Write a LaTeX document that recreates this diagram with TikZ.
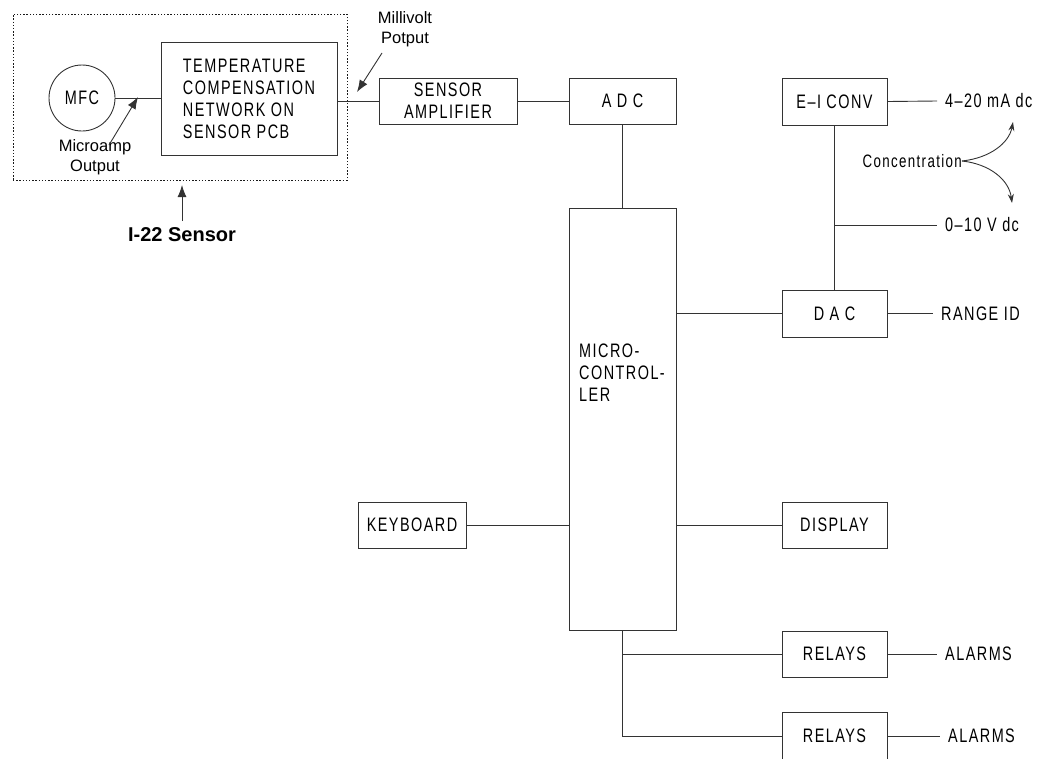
\documentclass[tikz,border=0pt]{standalone}
\usepackage{fontspec}
\setmainfont{Liberation Sans}
\newfontfamily\condfont[FakeStretch=0.74,LetterSpace=7.5]{Liberation Sans}
\usetikzlibrary{arrows.meta}
\tikzset{
  blk/.style={draw=black!80, line width=0.9pt, rectangle, inner sep=0pt,
    font=\condfont\fontsize{19.5}{22}\selectfont, align=center},
  lbl/.style={font=\condfont\fontsize{19.5}{22}\selectfont, inner xsep=8pt, inner ysep=0pt, anchor=west},
  note/.style={font=\fontsize{16.5}{20.5}\selectfont, align=center, inner sep=0pt},
  ln/.style={draw=black!80, line width=0.9pt},
  ptr/.style={ln, -{Latex[length=12pt,width=9pt]}},
  cptr/.style={ln, -{Stealth[length=9pt,width=6pt]}}
}
\begin{document}
\begin{tikzpicture}[x=1pt,y=-1pt]
\useasboundingbox (0,0) rectangle (1043,758);

% sensor enclosure
\node[draw=black!90, line width=1pt, dash pattern=on 1.4pt off 1.8pt, minimum width=334pt, minimum height=166pt, inner sep=0pt] (sensorbox) at (180,97) {};

\node[blk, circle, minimum size=66pt] (mfc) at (82,98) {MFC};
\node[blk, minimum width=176pt, minimum height=113pt, align=left] (temp) at (249,99) {TEMPERATURE\\COMPENSATION\\NETWORK ON\\SENSOR PCB};
\node[blk, minimum width=138pt, minimum height=46pt] (amp) at (448,101) {SENSOR\\AMPLIFIER};
\node[blk, minimum width=107pt, minimum height=46pt] (adc) at (622.5,101) {A D C};
\node[blk, minimum width=105pt, minimum height=47pt] (eiconv) at (834.5,101.5) {E–I CONV};
\node[blk, minimum width=105pt, minimum height=47pt] (dac) at (834.5,313.5) {D A C};
\node[blk, minimum width=107pt, minimum height=422pt] (micro) at (622.5,419) {};
\node[font=\condfont\fontsize{19.5}{22}\selectfont, align=left, anchor=west, inner sep=0pt] (microlbl) at (579,373) {MICRO-\\CONTROL-\\LER};
\node[blk, minimum width=108pt, minimum height=46pt] (kbd) at (412,525) {KEYBOARD};
\node[blk, minimum width=105pt, minimum height=46pt] (disp) at (834.5,525) {DISPLAY};
\node[blk, minimum width=105pt, minimum height=46pt] (rel1) at (834.5,654) {RELAYS};
\node[blk, minimum width=105pt, minimum height=48pt] (rel2) at (834.5,736) {RELAYS};

% output labels
\node[lbl] (o420) at (937,101) {4–20 mA dc};
\node[lbl] (o010) at (937,225) {0–10 V dc};
\node[lbl] (rid) at (933,313.5) {RANGE ID};
\node[lbl] (al1) at (937,654) {ALARMS};
\node[lbl] (al2) at (940,736) {ALARMS};
\node[font=\condfont\fontsize{18}{21}\selectfont, inner sep=0pt, anchor=east] (conc) at (962,161) {Concentration};

% notes
\node[note] (microamp) at (95,157) {Microamp\\Output};
\node[note] (millivolt) at (405,29) {Millivolt\\Potput};
\node[font=\bfseries\fontsize{20}{24}\selectfont, inner sep=0pt] (i22) at (182,235) {I-22 Sensor};

\coordinate (maTail) at (109,145);
\coordinate (maHead) at (138,97);
\coordinate (mvTail) at (382,53);
\coordinate (mvHead) at (357,92);
\coordinate (i22Tail) at (182,221);
\coordinate (i22Head) at (182,185);
\coordinate (cUp) at (1013,122);
\coordinate (cDown) at (1012,203);
\coordinate (vtap) at (eiconv.south |- o010.west);

% connectors
\draw[ln] (mfc.east) -- (mfc.east -| temp.west);
\draw[ln] (temp.east |- amp.west) -- (amp.west);
\draw[ln] (amp.east) -- (adc.west);
\draw[ln] (adc.south) -- (micro.north);
\draw[ln] (eiconv.east) -- (o420.west);
\draw[ln] (eiconv.south) -- (dac.north);
\draw[ln] (vtap) -- (o010.west);
\draw[ln] (micro.east |- dac.west) -- (dac.west);
\draw[ln] (dac.east) -- (rid.west);
\draw[ln] (kbd.east) -- (kbd.east -| micro.west);
\draw[ln] (micro.east |- disp.west) -- (disp.west);
\draw[ln] (micro.south) -- (micro.south |- rel2.west) -- (rel2.west);
\draw[ln] (micro.south |- rel1.west) -- (rel1.west);
\draw[ln] (rel1.east) -- (al1.west);
\draw[ln] (rel2.east) -- (al2.west);

% pointers
\draw[ptr] (maTail) -- (maHead);
\draw[ptr] (mvTail) -- (mvHead);
\draw[ptr] (i22Tail) -- (i22Head);
\draw[cptr] (conc.east) .. controls (990,158) and (1009,143) .. (cUp);
\draw[cptr] (conc.east) .. controls (990,164) and (1009,180) .. (cDown);
\end{tikzpicture}
\end{document}
